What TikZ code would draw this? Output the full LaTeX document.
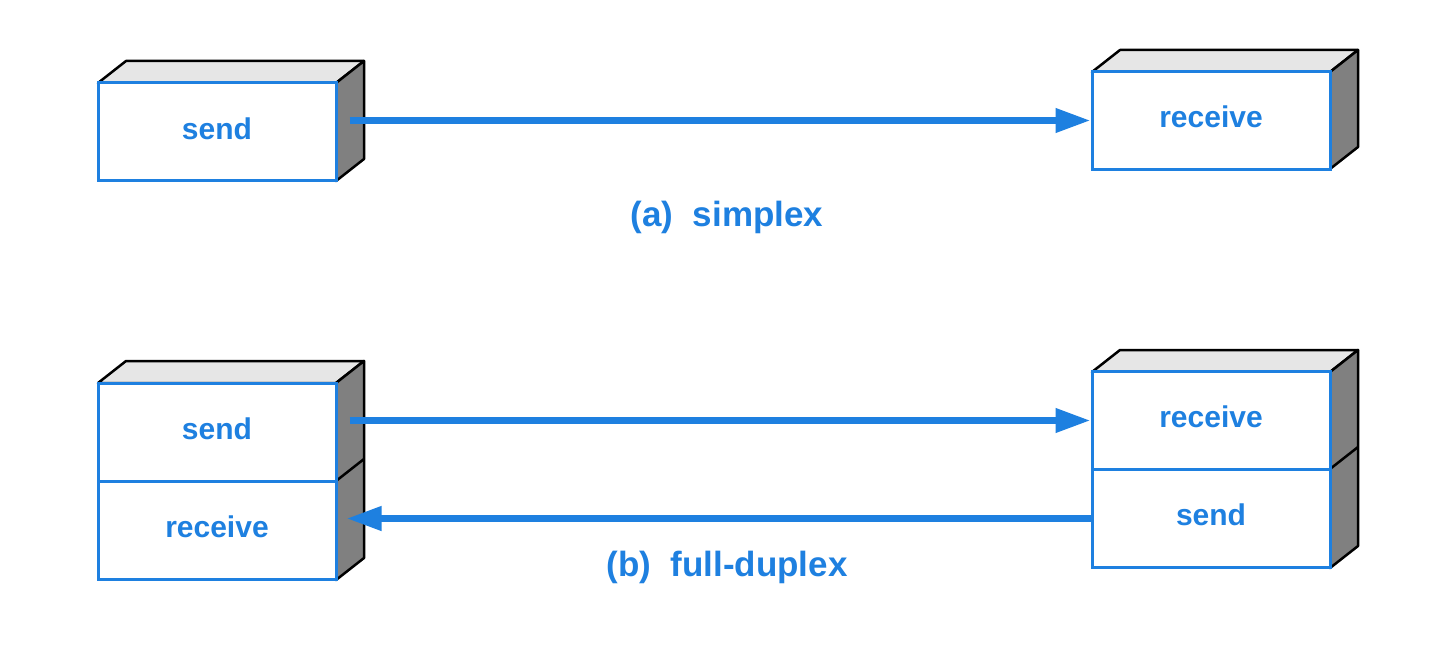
\documentclass[tikz,border=0pt]{standalone}
\usepackage{fontspec}
\setmainfont{Liberation Sans}
\usetikzlibrary{arrows.meta,calc}
\definecolor{mblue}{RGB}{30,128,224}
\definecolor{topgray}{RGB}{230,230,230}
\definecolor{sidegray}{RGB}{128,128,128}
\newcommand{\lifttxt}[1]{\raisebox{3.5pt}[\height][\depth]{#1}}
\tikzset{
  face/.style={draw=mblue, line width=3pt, fill=white, minimum width=238pt, minimum height=98pt, inner sep=0pt, text=mblue, font=\fontsize{30}{36}\selectfont\bfseries},
  topface/.style={draw=black, line width=2.5pt, fill=topgray, line join=round},
  sideface/.style={draw=black, line width=2.5pt, fill=sidegray, line join=round},
  arr/.style={draw=mblue, line width=7pt, -{Triangle[length=35pt,width=23pt]}},
  caption/.style={text=mblue, font=\fontsize{35}{42}\selectfont\bfseries}
}
\begin{document}
\begin{tikzpicture}[x=1pt,y=-1pt]
\useasboundingbox[fill=white] (0,0) rectangle (1455,668);
% ---- 3D backs ----
% top-left box
\draw[topface] (98,83) -- (126,61) -- (364,61) -- (336,83) -- cycle;
\draw[sideface] (336,83) -- (364,61) -- (364,159) -- (336,181) -- cycle;
% top-right box
\draw[topface] (1092,72) -- (1120,50) -- (1358,50) -- (1330,72) -- cycle;
\draw[sideface] (1330,72) -- (1358,50) -- (1358,147) -- (1330,169) -- cycle;
% bottom-left box
\draw[topface] (98,383) -- (126,361) -- (364,361) -- (336,383) -- cycle;
\draw[sideface] (336,383) -- (364,361) -- (364,558) -- (336,580) -- cycle;
\draw[black, line width=2.5pt] (336,481) -- (364,459);
% bottom-right box
\draw[topface] (1092,372) -- (1120,350) -- (1358,350) -- (1330,372) -- cycle;
\draw[sideface] (1330,372) -- (1358,350) -- (1358,546) -- (1330,568) -- cycle;
\draw[black, line width=2.5pt] (1330,469) -- (1358,447);
% ---- front faces ----
\node[face] (send1) at (217,132) {\lifttxt{send}};
\node[face] (recv1) at (1211,120.5) {\lifttxt{receive}};
\node[face] (send2) at (217,432) {\lifttxt{send}};
\node[face] (recv3) at (217,530.5) {\lifttxt{receive}};
\node[face] (recv2) at (1211,420.5) {\lifttxt{receive}};
\node[face] (send3) at (1211,518.5) {\lifttxt{send}};
% ---- arrows ----
\draw[arr] ($(send1.east |- recv1.west)+(12,0)$) -- (recv1.west);
\draw[arr] ($(send2.east |- recv2.west)+(12,0)$) -- (recv2.west);
\draw[arr] (send3.west) -- ($(recv3.east |- send3.west)+(9,0)$);
% ---- captions ----
\node[caption] (capa) at (727,217) {(a)~~simplex};
\node[caption] (capb) at (727,567) {(b)~~full-duplex};
\end{tikzpicture}
\end{document}
